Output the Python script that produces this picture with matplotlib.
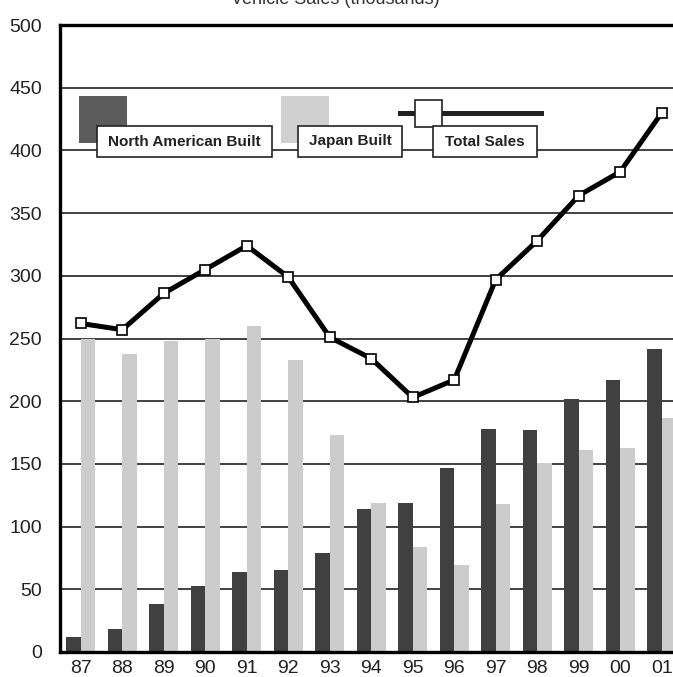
import matplotlib.pyplot as plt
import numpy as np
from matplotlib.patches import Rectangle
from matplotlib.lines import Line2D

plt.rcParams['font.family'] = ['Liberation Sans', 'DejaVu Sans']

# data (thousands of units)
years = ['87', '88', '89', '90', '91', '92', '93', '94', '95', '96', '97', '98', '99', '00', '01']
north_american = [12, 18, 38, 53, 64, 65, 79, 114, 119, 147, 178, 177, 202, 217, 242]
japan = [250, 238, 248, 250, 260, 233, 173, 119, 84, 69, 118, 151, 161, 163, 187]
total = [262, 257, 286, 305, 324, 299, 251, 234, 203, 217, 297, 328, 364, 383, 430]

W, H = 673, 677
fig = plt.figure(figsize=(W / 100, H / 100), dpi=100)
ax = fig.add_axes([60 / W, 25 / H, 622.5 / W, 627 / H])

x = np.arange(len(years))
bw = 0.35
ax.bar(x - bw / 2, north_american, bw, color='#404040', zorder=2)
ax.bar(x + bw / 2, japan, bw, color='#cccccc', zorder=2)
ax.plot(x, total, color='black', lw=3.6, marker='s', ms=7, mfc='white',
        mec='black', mew=1.2, zorder=4)

ax.set_xlim(-0.5, 14.5)
ax.set_ylim(0, 500)
ax.set_yticks(np.arange(0, 501, 50))
ax.set_xticks(x)
ax.set_xticklabels(years)
ax.tick_params(length=0, labelsize=14, colors='#222222')
ax.tick_params(axis='y', pad=13)
ax.tick_params(axis='x', pad=6)
ax.yaxis.grid(True, color='#333333', lw=1.3, zorder=1)
ax.set_axisbelow(True)
for s in ['left', 'bottom', 'top']:
    ax.spines[s].set_linewidth(2.4)
ax.spines['right'].set_visible(False)

# title, mostly cut off at top of image (as in the source)
fig.text(335 / W, 1 - 4 / H, 'Vehicle Sales (thousands)', ha='center', va='baseline',
         fontsize=13, color='#333333')


# legend drawn by hand (pixel coords -> figure fraction)
def px_rect(x0, y0, x1, y1, **kw):
    fig.add_artist(Rectangle((x0 / W, 1 - y1 / H), (x1 - x0) / W, (y1 - y0) / H,
                             transform=fig.transFigure, **kw))


def px_label(x0, y0, x1, y1, txt):
    px_rect(x0, y0, x1, y1, facecolor='white', edgecolor='#222222', lw=1.2, zorder=6)
    fig.text((x0 + x1) / 2 / W, 1 - (y0 + y1) / 2 / H, txt, ha='center', va='center',
             fontsize=11, fontweight='bold', color='#222222', zorder=7)


px_rect(79, 96, 127, 143, facecolor='#5c5c5c', edgecolor='none', zorder=5)
px_label(97, 126, 272, 157, 'North American Built')
px_rect(281, 96, 329, 143, facecolor='#d0d0d0', edgecolor='none', zorder=5)
px_label(298, 126, 402, 157, 'Japan Built')
fig.add_artist(Line2D([400 / W, 541 / W], [1 - 113 / H, 1 - 113 / H], color='#222222',
                      lw=3.6, transform=fig.transFigure, zorder=5))
px_rect(415, 100, 442, 127, facecolor='white', edgecolor='#222222', lw=1.2, zorder=6)
px_label(433, 126, 537, 157, 'Total Sales')

fig.savefig('out.png', dpi=100)
